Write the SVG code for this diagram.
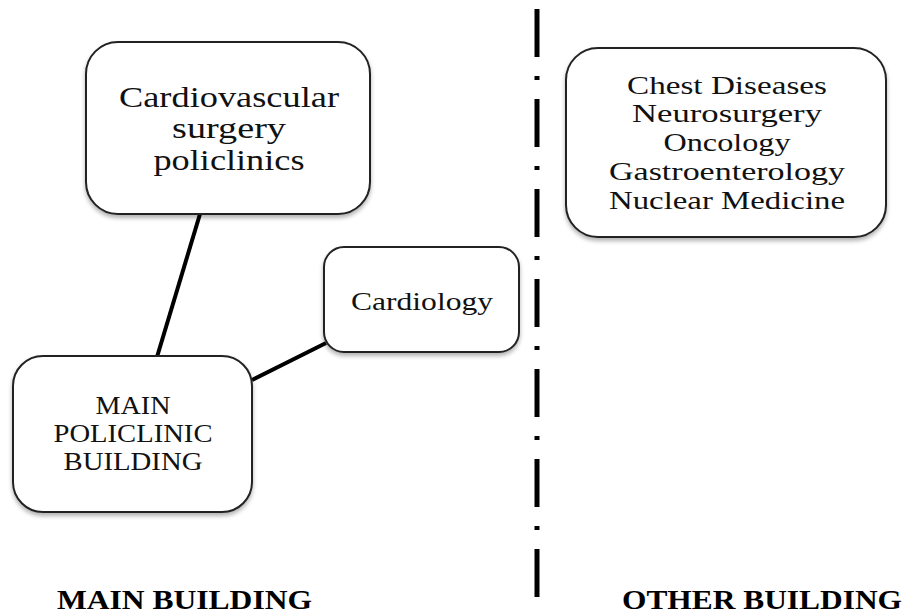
<svg xmlns="http://www.w3.org/2000/svg" width="911" height="616" viewBox="0 0 911 616">
<style>
.box{fill:#fff;stroke:#222;stroke-width:2;filter:url(#sh)}
.t{font-family:"Liberation Serif",serif;fill:#111;text-anchor:middle}
.lbl{font-family:"Liberation Serif",serif;font-weight:bold;font-size:28px;fill:#000}
.conn{stroke:#000;stroke-width:4;fill:none}
</style>
<defs>
<filter id="sh" x="-10%" y="-10%" width="120%" height="130%">
<feDropShadow dx="0" dy="3" stdDeviation="2" flood-color="#000" flood-opacity="0.3"/>
</filter>
</defs>
<g id="divider">
<line x1="537" y1="9" x2="537" y2="600" stroke="#000" stroke-width="5" stroke-dasharray="48 19 4 19"/>
</g>
<g id="connectors">
<line class="conn" x1="200" y1="214" x2="157" y2="357"/>
<line class="conn" x1="252" y1="380" x2="326" y2="343"/>
</g>
<g id="cardiovascular">
<rect class="box" x="86" y="42" width="284" height="172" rx="32"/>
<text class="t" font-size="29" x="229" y="107" textLength="220" lengthAdjust="spacingAndGlyphs">Cardiovascular</text>
<text class="t" font-size="29" x="229" y="138" textLength="114" lengthAdjust="spacingAndGlyphs">surgery</text>
<text class="t" font-size="29" x="229" y="170" textLength="151" lengthAdjust="spacingAndGlyphs">policlinics</text>
</g>
<g id="other">
<rect class="box" x="566" y="48" width="320" height="189" rx="32"/>
<text class="t" font-size="26" x="727" y="94" textLength="200" lengthAdjust="spacingAndGlyphs">Chest Diseases</text>
<text class="t" font-size="26" x="727" y="122" textLength="190" lengthAdjust="spacingAndGlyphs">Neurosurgery</text>
<text class="t" font-size="26" x="727" y="151" textLength="127" lengthAdjust="spacingAndGlyphs">Oncology</text>
<text class="t" font-size="26" x="727" y="180" textLength="236" lengthAdjust="spacingAndGlyphs">Gastroenterology</text>
<text class="t" font-size="26" x="727" y="209" textLength="236" lengthAdjust="spacingAndGlyphs">Nuclear Medicine</text>
</g>
<g id="cardiology">
<rect class="box" x="324" y="247" width="195" height="105" rx="20"/>
<text class="t" font-size="26" x="422" y="310" textLength="142" lengthAdjust="spacingAndGlyphs">Cardiology</text>
</g>
<g id="main">
<rect class="box" x="13" y="356" width="239" height="156" rx="30"/>
<text class="t" font-size="25" x="133" y="414" textLength="75" lengthAdjust="spacingAndGlyphs">MAIN</text>
<text class="t" font-size="25" x="133" y="442" textLength="159" lengthAdjust="spacingAndGlyphs">POLICLINIC</text>
<text class="t" font-size="25" x="133" y="470" textLength="139" lengthAdjust="spacingAndGlyphs">BUILDING</text>
</g>
<g id="labels">
<text class="lbl" x="57" y="609" textLength="255" lengthAdjust="spacingAndGlyphs">MAIN BUILDING</text>
<text class="lbl" x="622" y="609" textLength="280" lengthAdjust="spacingAndGlyphs">OTHER BUILDING</text>
</g>
</svg>
